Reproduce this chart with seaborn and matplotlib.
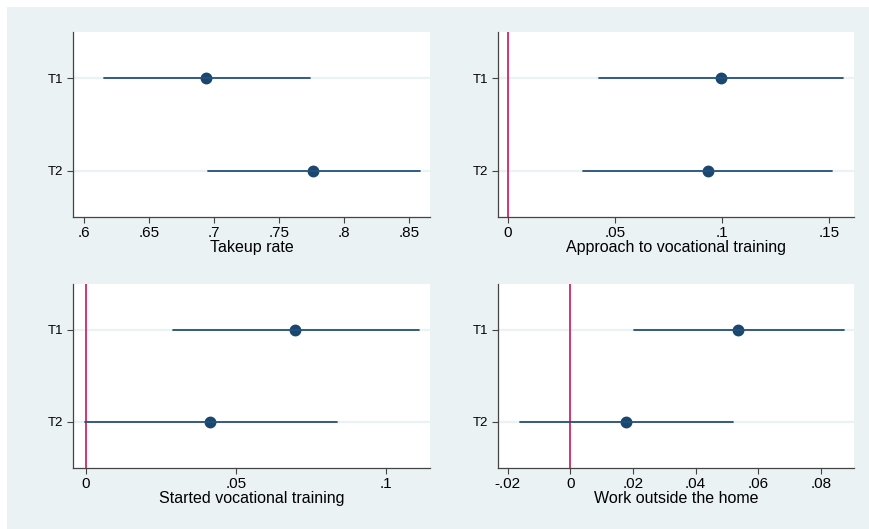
import numpy as np
import pandas as pd
import matplotlib.pyplot as plt
import seaborn as sns
from matplotlib.patches import Rectangle

# Estimates and 95% CIs (T1, T2 per outcome)
groups = ['T1', 'T2']

takeup_est = [0.694, 0.776]
takeup_lo = [0.615, 0.695]
takeup_hi = [0.774, 0.858]

approach_est = [0.0995, 0.0933]
approach_lo = [0.0425, 0.0349]
approach_hi = [0.1565, 0.1516]

started_est = [0.0698, 0.0413]
started_lo = [0.0289, -0.0004]
started_hi = [0.111, 0.0836]

work_est = [0.0537, 0.0179]
work_lo = [0.0204, -0.0162]
work_hi = [0.0873, 0.052]

titles = ['Takeup rate', 'Approach to vocational training',
          'Started vocational training', 'Work outside the home']
xticks = [
    [0.6, 0.65, 0.7, 0.75, 0.8, 0.85],
    [0, 0.05, 0.1, 0.15],
    [0, 0.05, 0.1],
    [-0.02, 0, 0.02, 0.04, 0.06, 0.08],
]
xlims = [(0.5915, 0.866), (-0.0047, 0.1617), (-0.0043, 0.1147), (-0.0231, 0.0906)]
zero_line = [False, True, True, True]

panels = [
    (takeup_est, takeup_lo, takeup_hi),
    (approach_est, approach_lo, approach_hi),
    (started_est, started_lo, started_hi),
    (work_est, work_lo, work_hi),
]

BG = '#EAF2F3'
NAVY = '#1A476F'
RED = '#D9336A'

sns.set_theme(style='white')
plt.rcParams['font.family'] = ['Liberation Sans', 'DejaVu Sans']


def stata_fmt(v):
    s = f'{v:g}'
    if s.startswith('0.'):
        s = s[1:]
    elif s.startswith('-0.'):
        s = '-' + s[2:]
    return s


W, H = 869, 529
fig = plt.figure(figsize=(W / 100, H / 100), dpi=100, facecolor='white')
fig.patches.append(Rectangle((7 / W, 0), 1 - 7 / W, 1 - 7 / H,
                             transform=fig.transFigure, facecolor=BG,
                             edgecolor='none', zorder=-10))

# axes boxes in pixels: left, right, top, bottom
boxes = [(73, 430, 32, 217), (498, 854, 32, 217),
         (73, 430, 284, 468), (498, 854, 284, 468)]

for i, (est, lo, hi) in enumerate(panels):
    l, r, t, b = boxes[i]
    ax = fig.add_axes([l / W, (H - b) / H, (r - l) / W, (b - t) / H])
    ax.set_facecolor('white')

    # long form: lo / est / hi per group -> median is the estimate, min/max the CI
    df = pd.DataFrame({
        'group': np.repeat(groups, 3),
        'value': np.ravel(np.column_stack([lo, est, hi])),
    })

    ypos = np.arange(len(groups))
    ax.hlines(ypos, *xlims[i], color=BG, lw=1.6, zorder=0)
    if zero_line[i]:
        ax.axvline(0, color=RED, lw=1.4, zorder=1)

    sns.pointplot(data=df, x='value', y='group', order=groups,
                  estimator='median', errorbar=lambda v: (v.min(), v.max()),
                  linestyle='none', marker='o', markersize=6.5,
                  color=NAVY, err_kws={'linewidth': 1.3, 'color': '#24507A'},
                  orient='h', ax=ax, zorder=3)

    ax.set_xlim(*xlims[i])
    ax.set_ylim(1.5, -0.5)
    ax.set_xticks(xticks[i])
    ax.set_xticklabels([stata_fmt(v) for v in xticks[i]])
    ax.set_yticks(ypos)
    ax.set_yticklabels(groups)
    ax.set_xlabel(titles[i], fontsize=11.5, labelpad=0, color='black')
    ax.set_ylabel('')

    for side in ['top', 'right']:
        ax.spines[side].set_visible(False)
    for side in ['left', 'bottom']:
        ax.spines[side].set_color('#444444')
        ax.spines[side].set_linewidth(0.9)
    ax.tick_params(axis='x', direction='out', length=4, width=0.8,
                   color='#444444', labelsize=11, pad=2.5, labelcolor='black',
                   bottom=True)
    ax.tick_params(axis='y', direction='out', length=4, width=0.8,
                   color='#444444', labelsize=9.5, pad=3, labelcolor='black',
                   left=True)
    ax.grid(False)

fig.savefig('out.png', dpi=100, facecolor='white')
plt.close(fig)
